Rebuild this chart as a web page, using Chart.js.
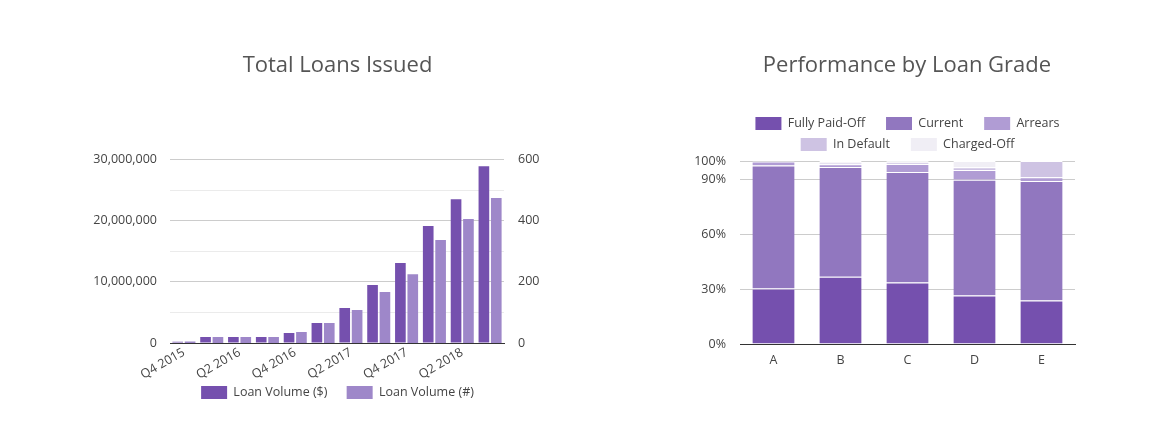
<!DOCTYPE html>
<html>
<head>
<meta charset="utf-8">
<script src="https://cdn.jsdelivr.net/npm/chart.js@4.4.1/dist/chart.umd.min.js"></script>
<style>
  body { margin: 0; background: #fff; width: 1159px; height: 442px; overflow: hidden; position: relative; }
  .box { position: absolute; top: 0; height: 442px; }
  #leftBox { left: 80px; width: 515px; }
  #rightBox { left: 680px; width: 454px; }
</style>
</head>
<body>
<div class="box" id="leftBox"><canvas id="loans"></canvas></div>
<div class="box" id="rightBox"><canvas id="grades"></canvas></div>
<script>
// left chart: loans issued per quarter
var quarters = ["Q4 2015", "Q1 2016", "Q2 2016", "Q3 2016", "Q4 2016", "Q1 2017",
                "Q2 2017", "Q3 2017", "Q4 2017", "Q1 2018", "Q2 2018", "Q3 2018"];
var volumeDollars = [220000, 980000, 980000, 980000, 1630000, 3270000,
                     5720000, 9470000, 13070000, 19100000, 23500000, 28900000];
var volumeCount = [5, 20, 20, 20, 36, 65, 108, 167, 225, 337, 405, 474];

// right chart: performance by grade (%)
var grades = ["A", "B", "C", "D", "E"];
var fullyPaid = [30.3, 36.8, 33.6, 26.5, 23.8];
var current = [67.3, 59.9, 60.4, 63.2, 65.3];
var arrears = [2.1, 1.5, 4.4, 5.4, 2.0];
var inDefault = [0.2, 0.8, 0.7, 1.5, 8.9];
var chargedOff = [0.1, 1.0, 0.9, 3.4, 0];
var gradeTicks = [0, 30, 60, 90, 100];

Chart.defaults.font.family = "'Open Sans'";
Chart.defaults.font.size = 12.5;
Chart.defaults.color = "#444";

// legend has one padding for rows and items, so widen the gap after some items
function spacedLabels(gap, spaced) {
  return function (chart) {
    var items = Chart.defaults.plugins.legend.labels.generateLabels(chart);
    items.forEach(function (it, i) {
      if (spaced.indexOf(i) >= 0) it.text = it.text + gap;
      it.lineWidth = 0;
    });
    return items;
  };
}

new Chart(document.getElementById("loans"), {
  type: "bar",
  data: {
    labels: quarters,
    datasets: [
      { label: "Loan Volume ($)", data: volumeDollars, backgroundColor: "#7550ae", yAxisID: "y" },
      { label: "Loan Volume (#)", data: volumeCount, backgroundColor: "#9e87c9", yAxisID: "y1" }
    ]
  },
  options: {
    responsive: true,
    maintainAspectRatio: false,
    animation: false,
    datasets: { bar: { categoryPercentage: 0.89, barPercentage: 0.86 } },
    layout: { padding: { top: 0, left: 0, right: 0, bottom: 33 } },
    plugins: {
      title: {
        display: true, text: "Total Loans Issued", color: "#555",
        font: { size: 22, weight: "normal" }, padding: { top: 53, bottom: 80 }
      },
      legend: {
        position: "bottom",
        labels: { boxWidth: 26, boxHeight: 13, padding: 3, generateLabels: spacedLabels("     ", [0]) }
      },
      tooltip: { enabled: false }
    },
    scales: {
      x: {
        grid: { display: false, drawTicks: false },
        border: { color: "#333" },
        ticks: {
          autoSkip: false, minRotation: 30, maxRotation: 30, padding: 2,
          callback: function (v, i) { return i % 2 === 0 ? quarters[i] : ""; }
        },
        afterFit: function (s) { s.height = 40; }
      },
      y: {
        position: "left", min: 0, max: 30000000,
        ticks: {
          stepSize: 5000000, padding: 13,
          callback: function (v) { return v % 10000000 === 0 ? v.toLocaleString("en-US") : ""; }
        },
        grid: {
          drawTicks: false,
          color: function (c) { return c.tick && c.tick.value % 10000000 === 0 ? "#ccc" : "#ebebeb"; }
        },
        border: { display: false },
        afterFit: function (s) { s.width = 90; }
      },
      y1: {
        position: "right", min: 0, max: 600,
        ticks: {
          stepSize: 100, padding: 14,
          callback: function (v) { return v % 200 === 0 ? v : ""; }
        },
        grid: { display: false, drawTicks: false },
        border: { display: false },
        afterFit: function (s) { s.width = 91; }
      }
    }
  }
});

new Chart(document.getElementById("grades"), {
  type: "bar",
  data: {
    labels: grades,
    datasets: [
      { label: "Fully Paid-Off", data: fullyPaid, backgroundColor: "#7550ae" },
      { label: "Current", data: current, backgroundColor: "#9177bf" },
      { label: "Arrears", data: arrears, backgroundColor: "#b09cd4" },
      { label: "In Default", data: inDefault, backgroundColor: "#cec3e3" },
      { label: "Charged-Off", data: chargedOff, backgroundColor: "#f0eef5" }
    ]
  },
  options: {
    responsive: true,
    maintainAspectRatio: false,
    animation: false,
    datasets: {
      bar: {
        categoryPercentage: 1, barPercentage: 0.63,
        borderColor: "#fff", borderWidth: { top: 1, left: 0, right: 0, bottom: 0 }
      }
    },
    layout: { padding: { top: 0, left: 0, right: 0, bottom: 65 } },
    plugins: {
      title: {
        display: true, text: "Performance by Loan Grade", color: "#555",
        font: { size: 22, weight: "normal" }, padding: { top: 53, bottom: 29.6 }
      },
      legend: {
        position: "top",
        fullSize: false,
        labels: { boxWidth: 26, boxHeight: 13, padding: 8, generateLabels: spacedLabels("    ", [0, 1, 3]) }
      },
      tooltip: { enabled: false }
    },
    scales: {
      x: {
        stacked: true,
        grid: { display: false, drawTicks: false },
        border: { color: "#333" },
        ticks: { padding: 9 }
      },
      y: {
        stacked: true, min: 0, max: 100,
        afterBuildTicks: function (s) { s.ticks = gradeTicks.map(function (v) { return { value: v }; }); },
        ticks: { padding: 14, callback: function (v) { return v + "%"; } },
        grid: { color: "#ccc", drawTicks: false },
        border: { display: false },
        afterFit: function (s) { s.width = 60; }
      },
      pad: {
        type: "linear", axis: "y", position: "right",
        ticks: { display: false },
        grid: { display: false, drawTicks: false },
        border: { display: false },
        afterFit: function (s) { s.width = 59; }
      }
    }
  }
});
</script>
</body>
</html>
